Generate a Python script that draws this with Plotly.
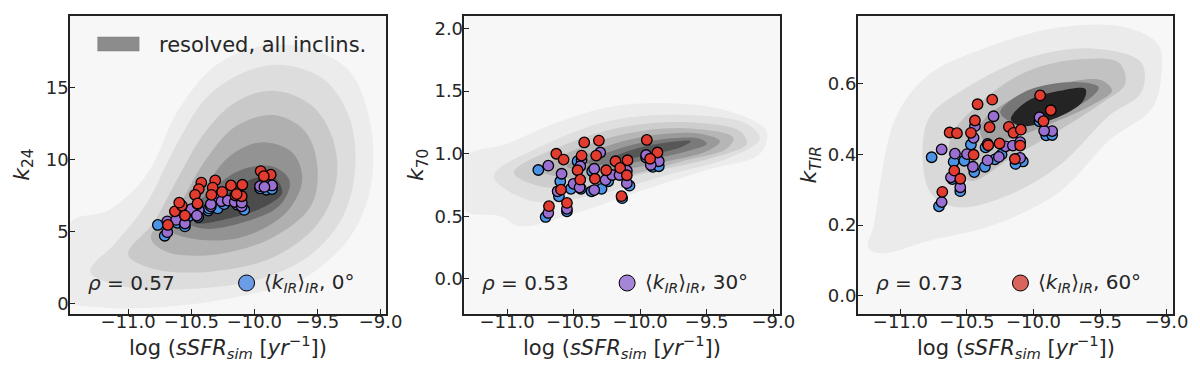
import plotly.graph_objects as go

# ~~~~~~~~~~~~~~~~~~~~~~~~~~~~~~~~
# Data
# ~~~~~~~~~~~~~~~~~~~~~~~~~~~~~~~~
# galaxies at 60 deg (red), 30 deg (purple), 0 deg (blue)
red_x = [-9.95, -9.87, -9.925, -10.31, -10.42, -10.44, -10.33, -10.185, -10.15, -10.095,
         -10.63, -10.575, -10.47, -10.45, -10.34, -10.255, -10.10, -10.14, -10.595, -10.55, -10.685]
red_k24 = [9.2, 8.95, 8.85, 8.55, 8.4, 7.95, 8.05, 8.2, 7.5, 8.25,
           6.4, 6.8, 7.55, 6.95, 7.55, 7.75, 7.45, 7.6, 7.0, 6.1, 5.45]
red_k70 = [1.11, 1.01, 0.96, 1.105, 1.09, 0.985, 0.985, 0.94, 0.887, 0.948,
           1.0, 0.953, 0.868, 0.793, 0.80, 0.868, 0.828, 0.661, 0.713, 0.607, 0.581]
red_ktir = [0.567, 0.525, 0.494, 0.555, 0.542, 0.496, 0.477, 0.478, 0.461, 0.470,
            0.462, 0.460, 0.461, 0.399, 0.426, 0.431, 0.425, 0.387, 0.354, 0.331, 0.294]

purple_x = [-9.955, -9.86, -9.92, -10.30, -10.44, -10.69, -10.59, -10.50, -10.455, -10.345,
            -10.26, -10.21, -10.155, -10.10, -10.62, -10.55, -10.69, -10.345, -10.10, -10.45]
purple_k24 = [8.15, 8.2, 8.1, 7.3, 6.5, 5.7, 6.0, 6.55, 6.1, 6.75,
              7.1, 7.15, 7.05, 6.75, 5.8, 5.55, 4.95, 6.9, 7.0, 6.9]
purple_k70 = [0.99, 0.94, 0.91, 1.01, 0.95, 0.905, 0.84, 0.76, 0.73, 0.88,
              0.79, 0.83, 0.83, 0.765, 0.70, 0.56, 0.527, 0.71, 0.865, 0.90]
purple_ktir = [0.505, 0.466, 0.467, 0.508, 0.48, 0.414, 0.402, 0.401, 0.365, 0.383,
               0.393, 0.423, 0.425, 0.39, 0.335, 0.307, 0.265, 0.43, 0.435, 0.447]

blue_x = [-10.765, -10.60, -10.52, -10.47, -10.365, -10.71, -10.61, -10.55, -10.29,
          -10.24, -10.08, -9.905, -9.955, -10.135, -10.36, -10.445, -9.86]
blue_k24 = [5.45, 5.85, 6.05, 6.3, 6.45, 4.7, 5.6, 5.35, 6.6,
            6.9, 6.5, 7.9, 8.0, 6.85, 6.6, 6.0, 7.95]
blue_k70 = [0.87, 0.78, 0.72, 0.94, 0.70, 0.495, 0.66, 0.54, 0.72,
            0.78, 0.745, 0.895, 0.97, 0.645, 0.86, 0.72, 0.90]
blue_ktir = [0.392, 0.379, 0.382, 0.428, 0.365, 0.253, 0.33, 0.296, 0.386,
             0.40, 0.38, 0.454, 0.494, 0.373, 0.42, 0.35, 0.455]

rho_values = ["0.57", "0.53", "0.73"]
inclinations = ["0", "30", "60"]

# density contours (resolved, all inclinations), outer -> inner, (log sSFR, k)
k24_levels = [
    [(-11.46, 0.2), (-11.46, 5.6), (-11.15, 6.5), (-10.85, 9.0), (-10.6, 13.5), (-10.3, 16.6), (-9.95, 17.9),
     (-9.6, 17.8), (-9.25, 16.2), (-9.08, 12.5), (-9.08, 8.0), (-9.25, 4.5), (-9.6, 1.8), (-10.1, 0.5),
     (-10.7, -0.25), (-11.2, -0.3)],
    [(-11.3, 2.2), (-11.1, 4.2), (-10.85, 7.0), (-10.62, 11.0), (-10.38, 14.3), (-10.1, 16.0), (-9.8, 16.6),
     (-9.45, 15.6), (-9.25, 13.0), (-9.2, 9.5), (-9.3, 6.0), (-9.55, 3.4), (-9.95, 1.7), (-10.5, 1.0), (-11.0, 1.1)],
    [(-11.0, 3.4), (-10.8, 5.6), (-10.6, 8.8), (-10.4, 11.8), (-10.15, 14.0), (-9.85, 14.8), (-9.55, 13.8),
     (-9.38, 11.5), (-9.35, 8.5), (-9.5, 5.5), (-9.85, 3.2), (-10.35, 2.2), (-10.8, 2.4)],
    [(-10.82, 4.6), (-10.6, 6.8), (-10.4, 9.8), (-10.15, 12.3), (-9.85, 13.1), (-9.6, 12.0), (-9.5, 9.5),
     (-9.55, 6.8), (-9.85, 4.6), (-10.3, 3.4), (-10.7, 3.6)],
    [(-10.68, 5.2), (-10.45, 7.4), (-10.2, 10.2), (-9.95, 11.2), (-9.7, 10.5), (-9.62, 8.6), (-9.75, 6.3),
     (-10.1, 4.6), (-10.5, 4.5)],
    [(-10.55, 5.8), (-10.35, 7.8), (-10.1, 9.3), (-9.85, 9.5), (-9.72, 8.5), (-9.8, 6.8), (-10.1, 5.6), (-10.4, 5.2)],
    [(-10.47, 5.6), (-10.25, 7.4), (-10.0, 8.7), (-9.85, 8.8), (-9.78, 7.7), (-9.95, 6.6), (-10.2, 5.9)],
]
k24_colors = ["#ececec", "#dddddd", "#c9c9c9", "#b0b0b0", "#939393", "#707070", "#4c4c4c"]

k70_levels = [
    [(-11.32, 0.55), (-11.32, 0.97), (-11.0, 1.08), (-10.65, 1.24), (-10.2, 1.38), (-9.7, 1.4), (-9.3, 1.33),
     (-9.05, 1.18), (-9.1, 1.0), (-9.5, 0.87), (-10.0, 0.7), (-10.5, 0.52), (-10.9, 0.42), (-11.05, 0.5)],
    [(-11.1, 0.82), (-10.7, 1.08), (-10.2, 1.27), (-9.65, 1.31), (-9.2, 1.24), (-9.1, 1.12), (-9.3, 0.98),
     (-9.8, 0.83), (-10.3, 0.68), (-10.8, 0.62)],
    [(-10.95, 0.85), (-10.55, 1.08), (-10.1, 1.22), (-9.6, 1.25), (-9.25, 1.18), (-9.2, 1.08), (-9.45, 0.97),
     (-9.9, 0.86), (-10.4, 0.74), (-10.75, 0.74)],
    [(-10.75, 0.87), (-10.4, 1.07), (-10.0, 1.18), (-9.6, 1.2), (-9.3, 1.13), (-9.35, 1.04), (-9.65, 0.95),
     (-10.1, 0.83), (-10.5, 0.8)],
    [(-10.55, 0.9), (-10.25, 1.06), (-9.9, 1.15), (-9.55, 1.16), (-9.4, 1.1), (-9.5, 1.02), (-9.8, 0.94), (-10.2, 0.87)],
    [(-10.4, 0.93), (-10.1, 1.06), (-9.8, 1.12), (-9.55, 1.12), (-9.5, 1.08), (-9.65, 1.02), (-9.95, 0.95), (-10.2, 0.91)],
    [(-10.2, 0.97), (-10.0, 1.05), (-9.8, 1.09), (-9.62, 1.1), (-9.7, 1.05), (-9.9, 1.0), (-10.1, 0.96)],
]
k70_colors = ["#ececec", "#dfdfdf", "#cdcdcd", "#b6b6b6", "#9a9a9a", "#7a7a7a", "#575757"]

ktir_levels = [
    [(-11.24, 0.135), (-11.2, 0.2), (-11.04, 0.5), (-10.79, 0.625), (-10.3, 0.71), (-9.8, 0.76), (-9.31, 0.76),
     (-9.06, 0.71), (-9.04, 0.625), (-9.11, 0.53), (-9.43, 0.44), (-9.8, 0.295), (-10.3, 0.2), (-10.79, 0.155),
     (-11.14, 0.12)],
    [(-10.82, 0.34), (-10.79, 0.5), (-10.55, 0.578), (-10.05, 0.672), (-9.56, 0.70), (-9.19, 0.66), (-9.19, 0.575),
     (-9.43, 0.51), (-9.8, 0.37), (-10.18, 0.286), (-10.55, 0.25), (-10.74, 0.276)],
    [(-10.62, 0.45), (-10.42, 0.54), (-10.05, 0.635), (-9.63, 0.67), (-9.36, 0.66), (-9.31, 0.6), (-9.49, 0.545),
     (-9.8, 0.47), (-10.17, 0.39), (-10.47, 0.325), (-10.62, 0.37)],
    [(-10.4, 0.48), (-10.17, 0.555), (-9.8, 0.6), (-9.49, 0.61), (-9.41, 0.58), (-9.56, 0.54), (-9.85, 0.49),
     (-10.17, 0.445), (-10.35, 0.43)],
    [(-10.25, 0.52), (-10.05, 0.58), (-9.68, 0.605), (-9.51, 0.59), (-9.61, 0.55), (-9.9, 0.51), (-10.15, 0.49)],
    [(-10.17, 0.5), (-10.05, 0.55), (-9.8, 0.58), (-9.61, 0.585), (-9.63, 0.55), (-9.85, 0.5), (-10.1, 0.48)],
]
ktir_colors = ["#ebebeb", "#d9d9d9", "#c2c2c2", "#a2a2a2", "#777777", "#242424"]

FONT = "DejaVu Sans"
TXT = "#262626"
BLUE, PURPLE, RED = "#4a93e6", "#9a6fd2", "#e23b2f"
LEG_COLORS = ["#6a9de6", "#a585d6", "#d8645b"]

panels = [
    dict(y=(blue_k24, purple_k24, red_k24), levels=k24_levels, colors=k24_colors,
         xrange=[-11.46, -8.96], yrange=[-0.75, 20.0], ytick=5, yfmt=".0f",
         ylabel="<i>k</i><sub>24</sub>", dom=[63, 383]),
    dict(y=(blue_k70, purple_k70, red_k70), levels=k70_levels, colors=k70_colors,
         xrange=[-11.32, -8.95], yrange=[-0.28, 2.1], ytick=0.5, yfmt=".1f",
         ylabel="<i>k</i><sub>70</sub>", dom=[463, 783]),
    dict(y=(blue_ktir, purple_ktir, red_ktir), levels=ktir_levels, colors=ktir_colors,
         xrange=[-11.32, -8.95], yrange=[-0.052, 0.792], ytick=0.2, yfmt=".1f",
         ylabel="<i>k</i><sub><i>TIR</i></sub>", dom=[862, 1182]),
]

W, H = 1200, 369
TOP, BOTTOM = 8, 306

fig = go.Figure()
annotations = []
shapes = []


def note(px, py, text, size, **kw):
    # text placed in figure pixels
    annotations.append(dict(x=px / W, y=1 - py / H, xref="paper", yref="paper", text=text,
                            showarrow=False, yanchor="middle", font=dict(family=FONT, size=size, color=TXT),
                            **kw))


for i, p in enumerate(panels):
    xa = "x" if i == 0 else f"x{i + 1}"
    ya = "y" if i == 0 else f"y{i + 1}"

    # contour bands
    for poly, col in zip(p["levels"], p["colors"]):
        xs = [v[0] for v in poly] + [poly[0][0]]
        ys = [v[1] for v in poly] + [poly[0][1]]
        fig.add_trace(go.Scatter(x=xs, y=ys, mode="lines", fill="toself", fillcolor=col,
                                 line=dict(color=col, width=0, shape="spline", smoothing=1.0),
                                 hoverinfo="skip", showlegend=False, xaxis=xa, yaxis=ya))

    # galaxies
    for gx, gy, col in zip((blue_x, purple_x, red_x), p["y"], (BLUE, PURPLE, RED)):
        fig.add_trace(go.Scatter(x=gx, y=gy, mode="markers",
                                 marker=dict(size=10.5, color=col, line=dict(color="black", width=1.3)),
                                 showlegend=False, xaxis=xa, yaxis=ya))

    d0, d1 = p["dom"][0] / W, p["dom"][1] / W
    axis_common = dict(showline=True, linecolor="#222222", linewidth=1.5, mirror=True,
                       ticks="inside", ticklen=5, tickwidth=1, tickcolor="#222222",
                       showgrid=False, zeroline=False,
                       tickfont=dict(family=FONT, size=18, color=TXT))
    fig.layout[("xaxis" if i == 0 else f"xaxis{i + 1}")] = dict(
        domain=[d0, d1], range=p["xrange"], anchor=ya, tick0=-11.0, dtick=0.5,
        tickformat=".1f", ticklabelstandoff=-9, **axis_common)
    fig.layout[("yaxis" if i == 0 else f"yaxis{i + 1}")] = dict(
        domain=[1 - BOTTOM / H, 1 - TOP / H], range=p["yrange"], anchor=xa, tick0=0,
        dtick=p["ytick"], tickformat=p["yfmt"], ticklabelstandoff=-4, **axis_common)

    # axis titles
    cx = (p["dom"][0] + p["dom"][1]) / 2
    note(cx, 339, "log (<i>sSFR</i><sub><i>sim</i></sub> [<i>yr</i><sup>\u22121</sup>])", 21,
         xanchor="center")
    note(p["dom"][0] - 48, 157, p["ylabel"], 22, xanchor="center", textangle=-90)

    # rho and legend entry
    note(p["dom"][0] + 16, 275, f"<i>\u03c1</i> = {rho_values[i]}", 20, xanchor="left")
    mx = p["dom"][0] + (179 if i == 0 else 165)
    shapes.append(dict(type="circle", xref="paper", yref="paper", xsizemode="pixel", ysizemode="pixel",
                       xanchor=mx / W, yanchor=1 - 275 / H, x0=-8, x1=8, y0=-8, y1=8,
                       fillcolor=LEG_COLORS[i], line=dict(color="black", width=1)))
    note(mx + 16, 275,
         f"\u27e8<i>k</i><sub><i>IR</i></sub>\u27e9<sub><i>IR</i></sub>, {inclinations[i]}\u00b0",
         20, xanchor="left")

# contour legend in first panel
shapes.append(dict(type="rect", xref="paper", yref="paper", x0=91 / W, x1=133 / W,
                   y0=1 - 43 / H, y1=1 - 29 / H, fillcolor="#8c8c8c", line=dict(color="#7c7c7c", width=0.5)))
note(151, 36.5, "resolved, all inclins.", 21, xanchor="left")

fig.update_layout(width=W, height=H, margin=dict(l=0, r=0, t=0, b=0),
                  paper_bgcolor="white", plot_bgcolor="#f7f7f7",
                  annotations=annotations, shapes=shapes, showlegend=False)

fig.write_html("out.html")
